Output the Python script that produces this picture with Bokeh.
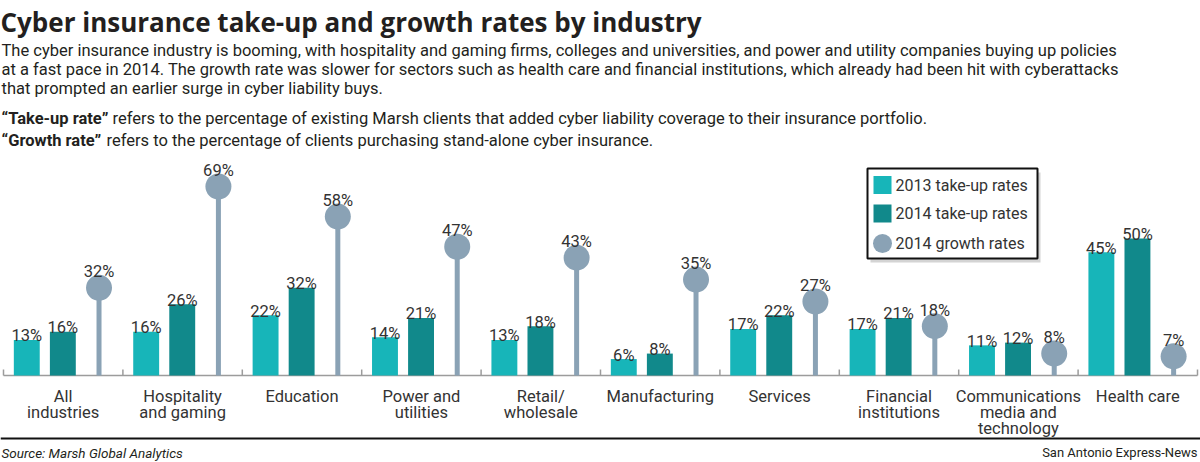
import numpy as np
from bokeh.plotting import figure
from bokeh.models import Range1d, ColumnDataSource
from bokeh.embed import file_html
from bokeh.resources import INLINE
from bokeh.core.properties import value

# ---------------- data ----------------
categories = ["All\nindustries", "Hospitality\nand gaming", "Education",
              "Power and\nutilities", "Retail/\nwholesale", "Manufacturing",
              "Services", "Financial\ninstitutions",
              "Communications\nmedia and\ntechnology", "Health care"]
take_up_2013 = [13, 16, 22, 14, 13, 6, 17, 17, 11, 45]
take_up_2014 = [16, 26, 32, 21, 18, 8, 22, 21, 12, 50]
growth_2014 = [32, 69, 58, 47, 43, 35, 27, 18, 8, 7]
series_names = ["2013 take-up rates", "2014 take-up rates", "2014 growth rates"]

title = "Cyber insurance take-up and growth rates by industry"
intro = ["The cyber insurance industry is booming, with hospitality and gaming firms, colleges and universities, and power and utility companies buying up policies",
         "at a fast pace in 2014. The growth rate was slower for sectors such as health care and financial institutions, which already had been hit with cyberattacks",
         "that prompted an earlier surge in cyber liability buys."]
defs_bold = ["\u201cTake-up rate\u201d", "\u201cGrowth rate\u201d"]
defs_text = ["refers to the percentage of existing Marsh clients that added cyber liability coverage to their insurance portfolio.",
             "refers to the percentage of clients purchasing stand-alone cyber insurance."]
source = "Source: Marsh Global Analytics"
credit = "San Antonio Express-News"

# ---------------- layout ----------------
W, H = 1200, 462
BASE = 375      # pixel row of the zero line (from top)
PPU = 2.74      # pixels per percentage point
X0 = 3          # pixel column where the first category starts
N = len(categories)
GW = 119.4      # pixels per category

C13 = "#17b5b9"
C14 = "#11898b"
CG = "#8aa2b5"
TXT = "#231f20"
LAB = "#333333"
FONT = value("Roboto")
HEAD = value("Open Sans")


def yv(py):
    return (BASE - py) / PPU


def xv(px):
    return (px - X0) / GW


p = figure(width=W, height=H, x_range=Range1d(xv(0), xv(W)), y_range=Range1d(yv(H), yv(0)),
           output_backend="svg", toolbar_location=None, min_border=0,
           x_axis_location=None, y_axis_location=None, outline_line_color=None,
           background_fill_color="white", border_fill_color="white")
p.grid.visible = False

idx = np.arange(N)
OFF13, OFF14, OFFG, BW = 0.195, 0.497, 0.80, 0.217

src = ColumnDataSource(dict(
    x13=idx + OFF13, x14=idx + OFF14, xg=idx + OFFG,
    t13=take_up_2013, t14=take_up_2014, g=growth_2014,
    l13=[f"{v}%" for v in take_up_2013], l14=[f"{v}%" for v in take_up_2014],
    lg=[f"{v}%" for v in growth_2014],
))

# baseline + separators
p.segment(x0=[0], y0=[0], x1=[N], y1=[0], line_color="#9c9c9c", line_width=1.5)
p.segment(x0=np.arange(N + 1), y0=0, x1=np.arange(N + 1), y1=6 / PPU,
          line_color="#9c9c9c", line_width=1.5)

# bars
p.vbar(x="x13", top="t13", bottom=0, width=BW, source=src, fill_color=C13, line_color=None)
p.vbar(x="x14", top="t14", bottom=0, width=BW, source=src, fill_color=C14, line_color=None)
# lollipops
p.segment(x0="xg", y0=0, x1="xg", y1="g", source=src, line_color=CG, line_width=5)
p.scatter(x="xg", y="g", source=src, size=26, marker="circle", fill_color=CG, line_color=None)

lab_kw = dict(text_font=FONT, text_font_size="16.5px", text_color=LAB,
              text_align="center", text_baseline="alphabetic")
p.text(x="x13", y="t13", text="l13", source=src, y_offset=-4, **lab_kw)
p.text(x="x14", y="t14", text="l14", source=src, y_offset=-4, **lab_kw)
p.text(x="xg", y="g", text="lg", source=src, y_offset=-16, **lab_kw)

# category labels (multi-line)
cx, cy, ct = [], [], []
for i, c in enumerate(categories):
    for j, line in enumerate(c.split("\n")):
        cx.append(i + 0.5)
        cy.append(yv(BASE + 21 + 16 * j))
        ct.append(line)
p.text(x=cx, y=cy, text=ct, text_font=FONT, text_font_size="16.5px", text_color=LAB,
       text_align="center", text_baseline="alphabetic")

# header
p.text(x=[xv(0)], y=[yv(21)], text=[title], text_font=HEAD, text_font_size="26px",
       text_font_style="bold", text_color=TXT, text_baseline="alphabetic")
p.text(x=[xv(1)] * 3, y=[yv(50), yv(69), yv(88)], text=intro, text_font=FONT,
       text_font_size="16.5px", text_color=TXT, text_baseline="alphabetic")
p.text(x=[xv(1)] * 2, y=[yv(118), yv(140)], text=defs_bold, text_font=FONT,
       text_font_size="16.5px", text_font_style="bold", text_color=TXT, text_baseline="alphabetic")
p.text(x=[xv(112), xv(106)], y=[yv(118), yv(140)], text=defs_text, text_font=FONT,
       text_font_size="16.5px", text_color=TXT, text_baseline="alphabetic")

# legend (drawn)
LX0, LX1, LY0, LY1 = 867, 1037, 168, 258
p.quad(left=[xv(LX0 + 3)], right=[xv(LX1 + 3)], top=[yv(LY0 + 4)], bottom=[yv(LY1 + 4)],
       fill_color="#b8b8b8", fill_alpha=0.6, line_color=None)
p.quad(left=[xv(LX0)], right=[xv(LX1)], top=[yv(LY0)], bottom=[yv(LY1)],
       fill_color="white", line_color="#111111", line_width=2)
rows = [184.5, 213, 243]
p.quad(left=[xv(873)] * 2, right=[xv(891)] * 2, top=[yv(r - 9) for r in rows[:2]],
       bottom=[yv(r + 9) for r in rows[:2]], fill_color=[C13, C14], line_color=None)
p.scatter(x=[xv(882)], y=[yv(rows[2])], size=19, marker="circle", fill_color=CG, line_color=None)
p.text(x=[xv(895)] * 3, y=[yv(r) for r in rows], text=series_names, text_font=FONT,
       text_font_size="16px", text_color=LAB, text_baseline="middle")

# footer
p.segment(x0=[xv(0)], y0=[yv(438)], x1=[xv(W)], y1=[yv(438)], line_color="#111111", line_width=2)
p.text(x=[xv(1)], y=[yv(452)], text=[source], text_font=FONT, text_font_size="13.5px",
       text_font_style="italic", text_color=TXT, text_baseline="alphabetic")
p.text(x=[xv(1197)], y=[yv(452)], text=[credit], text_font=FONT, text_font_size="13px",
       text_color=TXT, text_align="right", text_baseline="alphabetic")

open("out.html", "w").write(file_html(p, INLINE))
